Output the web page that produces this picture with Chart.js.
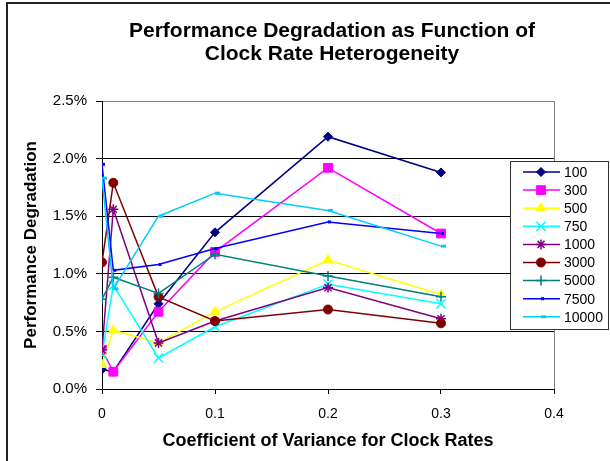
<!DOCTYPE html>
<html>
<head>
<meta charset="utf-8">
<script src="https://cdn.jsdelivr.net/npm/chart.js@4/dist/chart.umd.min.js"></script>
<style>
  html, body { margin: 0; padding: 0; background: #fff; }
  #c { display: block; }
</style>
</head>
<body>
<canvas id="c" width="610" height="461"></canvas>
<script>
// --- Data ---
const xValues = [0, 0.01, 0.05, 0.1, 0.2, 0.3];
const seriesNames = ['100', '300', '500', '750', '1000', '3000', '5000', '7500', '10000'];

// performance degradation in %
const s100   = [0.17, 0.15, 0.74, 1.36, 2.19, 1.88];
const s300   = [0.34, 0.15, 0.67, 1.19, 1.92, 1.35];
const s500   = [0.21, 0.51, 0.40, 0.67, 1.12, 0.82];
const s750   = [0.30, 0.90, 0.27, 0.54, 0.91, 0.74];
const s1000  = [0.34, 1.56, 0.40, 0.59, 0.88, 0.61];
const s3000  = [1.10, 1.79, 0.80, 0.59, 0.69, 0.57];
const s5000  = [0.78, 0.97, 0.83, 1.17, 0.98, 0.80];
const s7500  = [1.95, 1.03, 1.08, 1.22, 1.45, 1.35];
const s10000 = [1.83, 0.87, 1.50, 1.70, 1.55, 1.24];

const yTicks = [0, 0.5, 1.0, 1.5, 2.0, 2.5];
const xTicks = [0, 0.1, 0.2, 0.3, 0.4];

const FONT = 'Arial, "Liberation Sans", sans-serif';

// --- Series styles ---
const styles = [
  { color: '#000080', point: 'rectRot',  r: 4.5 },
  { color: '#FF00FF', point: 'rect',     r: 6.2 },
  { color: '#FFFF00', point: 'triangle', r: 5.5 },
  { color: '#00FFFF', point: 'crossRot', r: 6.5, bw: 1.5 },
  { color: '#800080', point: 'star',     r: 5,   bw: 1.5 },
  { color: '#800000', point: 'circle',   r: 4.5 },
  { color: '#008080', point: 'cross',    r: 5,   bw: 1.5 },
  { color: '#0000FF', point: 'dash',     r: 3,   bw: 3 },
  { color: '#00CCFF', point: 'dash',     r: 5,   bw: 3 }
];
const allSeries = [s100, s300, s500, s750, s1000, s3000, s5000, s7500, s10000];

const datasets = allSeries.map((vals, i) => ({
  label: seriesNames[i],
  data: xValues.map((x, j) => ({ x: x, y: vals[j] })),
  borderColor: styles[i].color,
  backgroundColor: styles[i].color,
  pointBackgroundColor: styles[i].color,
  pointBorderColor: styles[i].color,
  pointStyle: styles[i].point,
  pointRadius: styles[i].r,
  pointBorderWidth: styles[i].bw || 1,
  borderWidth: 1.5,
  tension: 0,
  showLine: true,
  order: -i
}));

// --- Chart title, borders and legend drawn on the canvas ---
const decorations = {
  id: 'decorations',
  beforeDatasetsDraw(chart) {
    const { ctx, chartArea: a } = chart;
    ctx.save();
    // plot area right border
    ctx.strokeStyle = '#808080';
    ctx.lineWidth = 1;
    ctx.beginPath();
    ctx.moveTo(Math.round(a.right) + 0.5, a.top);
    ctx.lineTo(Math.round(a.right) + 0.5, a.bottom);
    ctx.stroke();
    ctx.restore();
  },
  afterDraw(chart) {
    const ctx = chart.ctx;
    ctx.save();

    // outer frame (left and top edges visible)
    ctx.strokeStyle = '#222';
    ctx.lineWidth = 2;
    ctx.beginPath();
    ctx.moveTo(7, 470);
    ctx.lineTo(7, 3);
    ctx.lineTo(620, 3);
    ctx.stroke();

    // title
    ctx.fillStyle = '#000';
    ctx.font = 'bold 21px ' + FONT;
    ctx.textAlign = 'center';
    ctx.textBaseline = 'middle';
    ctx.fillText('Performance Degradation as Function of', 332, 31);
    ctx.fillText('Clock Rate Heterogeneity', 332, 54);

    // legend box
    ctx.fillStyle = '#fff';
    ctx.fillRect(510.5, 161.5, 98, 168);
    ctx.strokeStyle = '#333';
    ctx.lineWidth = 1;
    ctx.strokeRect(510.5, 161.5, 98, 168);

    ctx.textAlign = 'left';
    ctx.font = '14px ' + FONT;
    chart.data.datasets.forEach((ds, i) => {
      const y = 172 + i * 18.1;
      ctx.strokeStyle = ds.borderColor;
      ctx.lineWidth = 1.5;
      ctx.beginPath();
      ctx.moveTo(523, y);
      ctx.lineTo(560, y);
      ctx.stroke();
      ctx.fillStyle = ds.pointBackgroundColor;
      ctx.strokeStyle = ds.pointBorderColor;
      ctx.lineWidth = ds.pointBorderWidth;
      Chart.helpers.drawPoint(ctx, {
        pointStyle: ds.pointStyle,
        radius: ds.pointRadius,
        rotation: 0,
        borderWidth: ds.pointBorderWidth
      }, 541, y);
      ctx.fillStyle = '#000';
      ctx.fillText(ds.label, 564, y + 1);
    });
    ctx.restore();
  }
};

new Chart(document.getElementById('c'), {
  type: 'scatter',
  data: { datasets: datasets },
  options: {
    responsive: false,
    animation: false,
    devicePixelRatio: 1,
    layout: { padding: { top: 101, right: 56, left: 0, bottom: 0 } },
    plugins: {
      legend: { display: false },
      title: { display: false },
      tooltip: { enabled: false }
    },
    scales: {
      x: {
        type: 'linear',
        min: 0,
        max: 0.4,
        afterBuildTicks: (scale) => { scale.ticks = xTicks.map(v => ({ value: v })); },
        afterFit: (scale) => { scale.height = 72; },
        ticks: {
          color: '#000',
          font: { family: FONT, size: 14 },
          padding: 12,
          maxRotation: 0,
          callback: (v) => v === 0 ? '0' : v.toFixed(1)
        },
        grid: { drawOnChartArea: false, color: '#000', tickLength: 5 },
        border: { color: '#000', width: 1 },
        title: {
          display: true,
          text: 'Coefficient of Variance for Clock Rates',
          color: '#000',
          font: { family: FONT, size: 18, weight: 'bold', lineHeight: 1.2 },
          padding: { top: 0, bottom: 9 }
        }
      },
      y: {
        min: 0,
        max: 2.5,
        afterBuildTicks: (scale) => { scale.ticks = yTicks.map(v => ({ value: v })); },
        afterFit: (scale) => { scale.width = 102; },
        ticks: {
          color: '#000',
          font: { family: FONT, size: 15 },
          padding: 9,
          callback: (v) => v.toFixed(1) + '%'
        },
        grid: {
          color: (c) => (c.tick && c.tick.value === 2.5) ? '#808080' : '#000',
          tickColor: '#000',
          tickLength: 6
        },
        border: { color: '#000', width: 1 },
        title: {
          display: true,
          text: 'Performance Degradation',
          color: '#000',
          font: { family: FONT, size: 17, weight: 'bold', lineHeight: 1.2 },
          padding: { top: 21, bottom: 0 }
        }
      }
    }
  },
  plugins: [decorations]
});
</script>
</body>
</html>
